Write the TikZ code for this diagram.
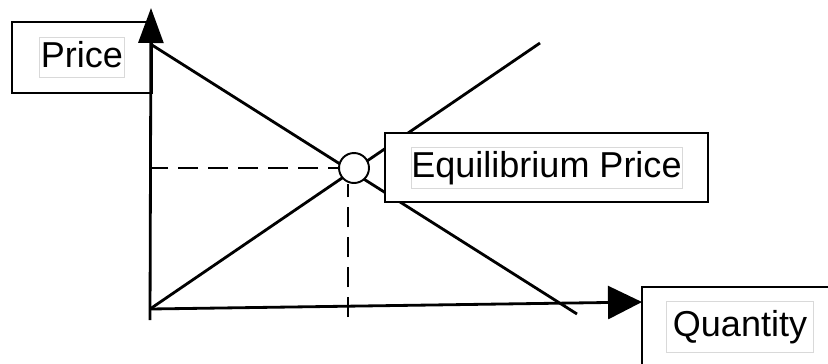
\documentclass[tikz,border=0pt]{standalone}
\usepackage{fontspec}
\setmainfont{Liberation Sans}
\usetikzlibrary{arrows.meta}

\begin{document}
\begin{tikzpicture}[x=0.02cm, y=-0.02cm, line width=1.6pt,
    every node/.style={font=\fontsize{20.5}{24}\selectfont},
    labelbox/.style={draw, fill=white, line width=0.8pt, inner sep=0pt},
    labeltext/.style={draw=gray!30, line width=0.5pt, inner sep=0pt, text height=15pt, text depth=4pt},
    guide/.style={line width=1.4pt, dash pattern=on 0.4cm off 0.2cm}]
    \useasboundingbox (0,0) rectangle (828,363);
    % points on the axes
    \coordinate (origin) at (150,309);
    \coordinate (ybot) at (150,320);
    \coordinate (ytop) at (151,8);
    \coordinate (xtip) at (642,302);
    \coordinate (qstar) at (348,317);
    % demand and supply
    \coordinate (dHigh) at (152,45);
    \coordinate (dLow) at (577,314);
    \coordinate (sHigh) at (540,43);
    \draw (dHigh) -- (dLow);
    \draw (origin) -- (sHigh);
    \node[circle, draw, fill=white, line width=1.1pt, minimum size=0.6cm, inner sep=0pt] (eq) at (354,168) {};
    \draw[guide, dash phase=0.2cm] (eq.west) -- (eq.west -| ybot);
    \draw[guide] (qstar) -- (qstar |- eq.south);
    % labels
    \node[labelbox, minimum width=2.8cm, minimum height=1.42cm] (priceBox) at (82,57.5) {};
    \node[labeltext, minimum width=1.7cm, minimum height=0.8cm] (priceText) at (priceBox) {Price};
    \node[labelbox, minimum width=6.46cm, minimum height=1.38cm] (eqBox) at (546.5,167.5) {};
    \node[labeltext, minimum width=5.42cm, minimum height=0.82cm] (eqText) at (eqBox) {Equilibrium Price};
    \node[labelbox, minimum width=3.92cm, minimum height=1.58cm] (qtyBox) at (740,326.5) {};
    \node[labeltext, minimum width=2.94cm, minimum height=1.02cm] (qtyText) at (qtyBox) {Quantity};
    % axes
    \draw[-{Triangle[length=0.7cm, width=0.5cm]}] (ybot) -- (ytop);
    \draw[-{Triangle[length=0.68cm, width=0.66cm]}] (origin) -- (xtip);
\end{tikzpicture}
\end{document}
